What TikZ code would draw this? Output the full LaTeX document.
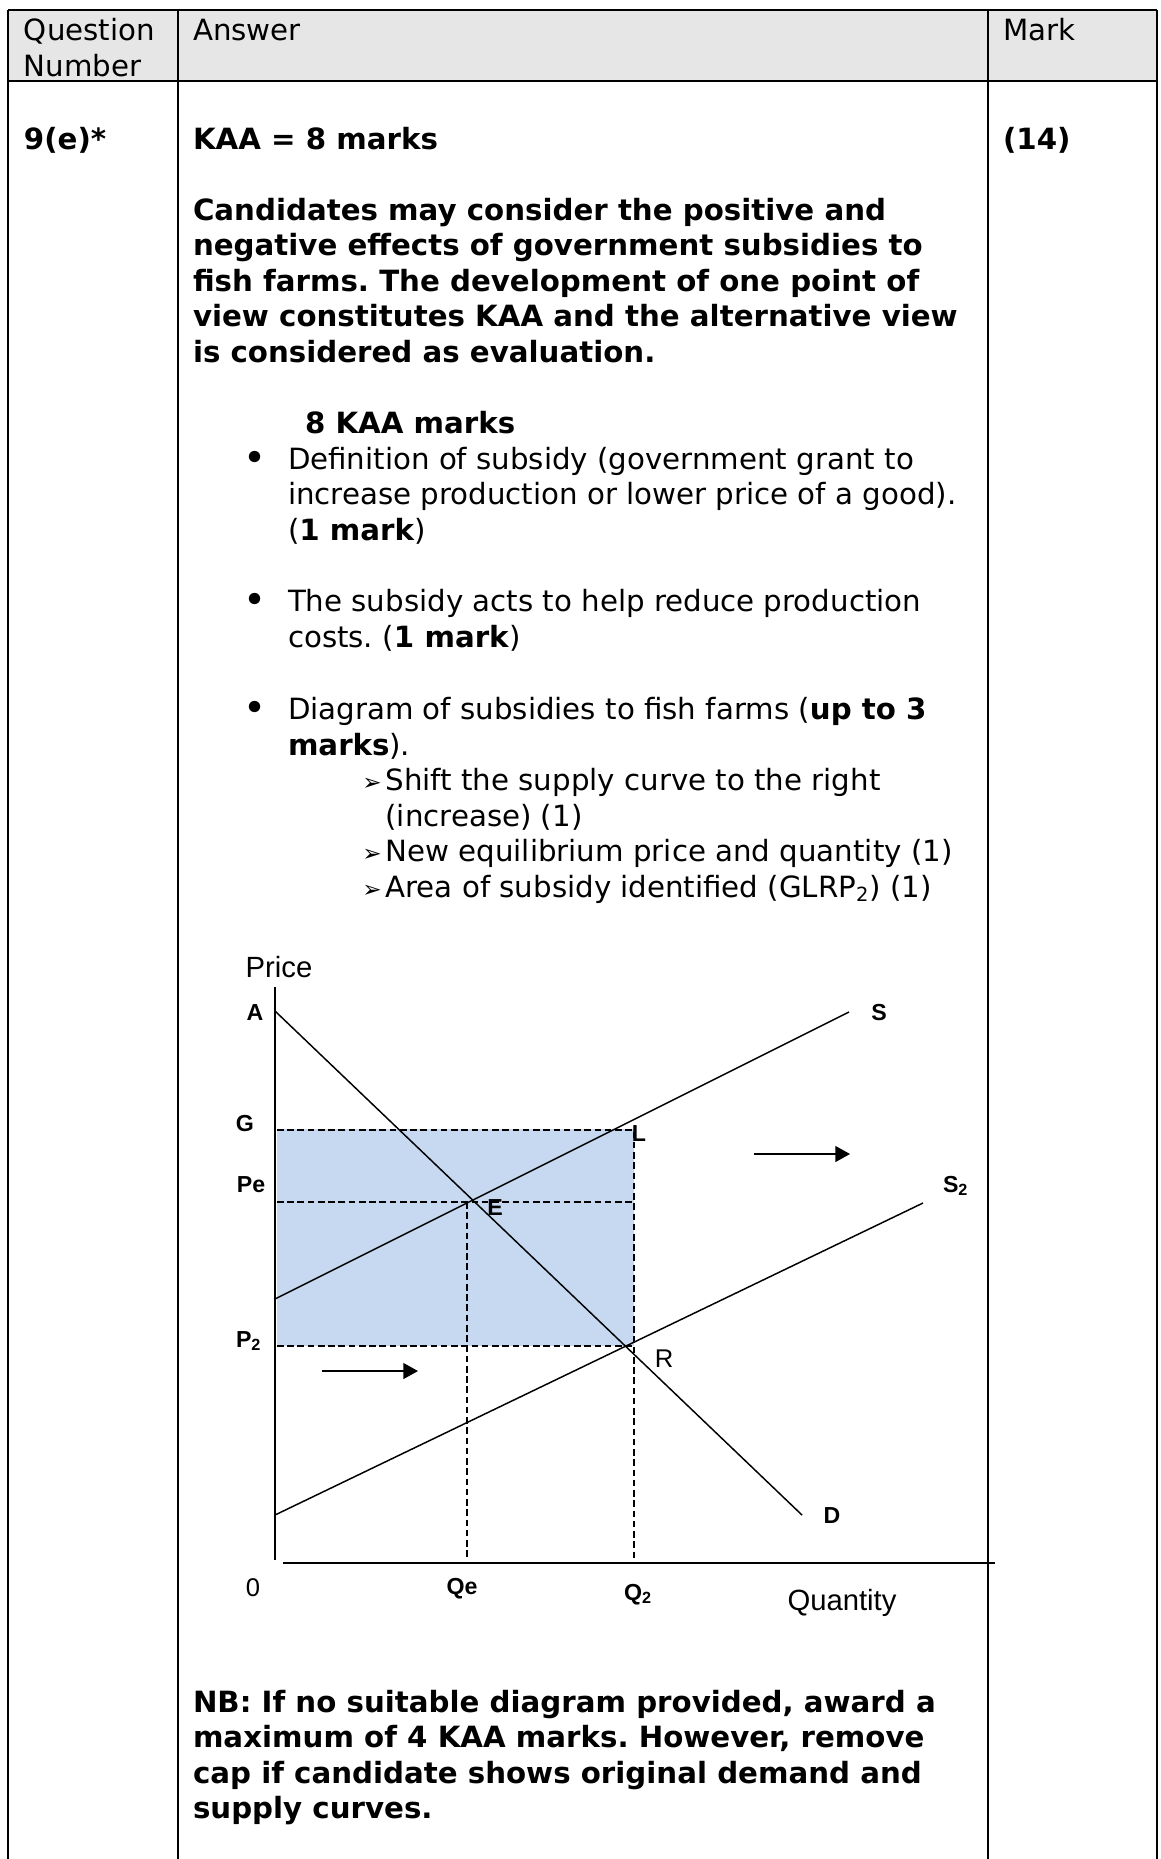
\documentclass[tikz,border=0pt]{standalone}
\usepackage{fontspec}
\setmainfont{DejaVu Sans}
\newfontfamily\arialfont{Liberation Sans}
\usepackage{xcolor}
\definecolor{headgray}{RGB}{230,230,230}
\definecolor{subsidyblue}{RGB}{198,217,241}
\usetikzlibrary{arrows.meta,positioning}
\frenchspacing

\begin{document}
\begin{tikzpicture}[
  x=0.41pt,
  y=-0.41pt,
  every node/.style={inner sep=0pt, outer sep=0pt},
  rule/.style={line width=1.2pt},
  body/.style={anchor=base west, font=\fontsize{12}{14.56}\selectfont},
  bodybold/.style={anchor=base west, font=\fontsize{12}{14.56}\selectfont\bfseries},
  bulletmark/.style={anchor=base, font=\fontsize{16}{16}\selectfont},
  arrowmark/.style={anchor=base, font=\fontsize{9.5}{9.5}\selectfont},
  curve/.style={line width=0.6pt},
  axisline/.style={line width=0.8pt},
  guide/.style={line width=0.6pt, dash pattern=on 2.7pt off 1.5pt},
  shiftarrow/.style={line width=0.6pt, -{Triangle[length=6pt,width=6.5pt]}},
  axislabel/.style={font=\arialfont\fontsize{12}{14}\selectfont},
  pointlabel/.style={font=\arialfont\fontsize{9.5}{11}\selectfont\bfseries},
  smalllabel/.style={font=\arialfont\fontsize{10.5}{12}\selectfont}
]
\useasboundingbox (0,0) rectangle (1160,1859);

\fill[headgray] (8,10) rectangle (1157,81);
\draw[rule] (8,10) -- (1157,10);
\draw[rule] (8,81) -- (1157,81);
\foreach \xcol in {8,178,988,1157}
  \draw[rule] (\xcol,10) -- (\xcol,1859);

\node[body] (qhead1) at (24,40.5) {Question};
\node[body] (qhead2) at (24,76) {Number};
\node[body] (answerhead) at (193,40.5) {Answer};
\node[body] (markhead) at (1003,40.5) {Mark};

\node[bodybold] (qid) at (24,149) {9(e)*};
\node[bodybold] (kaa) at (193,149) {KAA = 8 marks};
\node[bodybold] (total) at (1003,149) {(14)};

\foreach \txt [count=\i from 0] in {
  {Candidates may consider the positive and},
  {negative effects of government subsidies to},
  {fish farms. The development of one point of},
  {view constitutes KAA and the alternative view},
  {is considered as evaluation.}}
  \node[bodybold] (intro\i) at (193,220+35.55*\i) {\txt};

\node[bodybold] (kaahead) at (305,433) {8 KAA marks};

\foreach \yb [count=\i] in {469,611,719}
  \node[bulletmark] (bullet\i) at (255,\yb+2) {•};

\node[body] (def1) at (288,469) {Definition of subsidy (government grant to};
\node[body] (def2) at (288,504.6) {increase production or lower price of a good).};
\node[body] (def3) at (288,540) {(\textbf{1 mark})};
\node[body] (cost1) at (288,611) {The subsidy acts to help reduce production};
\node[body] (cost2) at (288,647) {costs. (\textbf{1 mark})};
\node[body] (diag1) at (288,719) {Diagram of subsidies to fish farms (\textbf{up to 3}};
\node[body] (diag2) at (288,755) {\textbf{marks}).};

\foreach \yb [count=\i] in {790,861.5,897}
  \node[arrowmark] (sub\i) at (372,\yb) {➢};
\node[body] (shift1) at (385.5,790) {Shift the supply curve to the right};
\node[body] (shift2) at (385.5,826) {(increase) (1)};
\node[body] (neweq) at (385.5,861.5) {New equilibrium price and quantity (1)};
\node[body] (area) at (385.5,897) {Area of subsidy identified (GLRP\textsubscript{2}) (1)};

\foreach \txt [count=\i from 0] in {
  {NB: If no suitable diagram provided, award a},
  {maximum of 4 KAA marks. However, remove},
  {cap if candidate shows original demand and},
  {supply curves.}}
  \node[bodybold] (nb\i) at (193,1712+35.55*\i) {\txt};

\coordinate (ytop) at (275,987);
\coordinate (ybot) at (275,1560);
\coordinate (xleft) at (283,1563);
\coordinate (xright) at (995,1563);
\coordinate (Dtop) at (275,1011);
\coordinate (Dend) at (802,1515);
\coordinate (Sstart) at (275,1299);
\coordinate (Send) at (849,1012);
\coordinate (S2start) at (275,1515);
\coordinate (S2end) at (923,1203);
\coordinate (Gy) at (277,1130);
\coordinate (Lc) at (634,1130);
\coordinate (Pey) at (277,1202);
\coordinate (PeQ2) at (634,1202);
\coordinate (P2y) at (277,1346);
\coordinate (Rc) at (634,1346);
\coordinate (Qetop) at (467,1202);
\coordinate (Qebot) at (467,1560);
\coordinate (Q2bot) at (634,1560);
\coordinate (arrowA1) at (754,1154);
\coordinate (arrowA2) at (850,1154);
\coordinate (arrowB1) at (322,1371);
\coordinate (arrowB2) at (418,1371);

\fill[subsidyblue] (277,1129) rectangle (634,1346);

\draw[guide] (Gy) -- (Lc) -- (Q2bot);
\draw[guide] (Pey) -- (PeQ2);
\draw[guide] (P2y) -- (Rc);
\draw[guide] (Qetop) -- (Qebot);

\draw[curve] (Dtop) -- (Dend);
\draw[curve] (Sstart) -- (Send);
\draw[curve] (S2start) -- (S2end);
\draw[shiftarrow] (arrowA1) -- (arrowA2);
\draw[shiftarrow] (arrowB1) -- (arrowB2);

\draw[axisline] (ytop) -- (ybot);
\draw[axisline] (xleft) -- (xright);

\node[axislabel] (price) at (279,967) {Price};
\node[axislabel] (quantity) at (842,1603) {Quantity};
\node[smalllabel] (zero) at (253,1588) {0};
\node[smalllabel] (Rlab) at (664,1359) {R};
\node[pointlabel] (Alab) at (255,1013) {A};
\node[pointlabel] (Glab) at (245,1124) {G};
\node[pointlabel] (Pelab) at (251,1185) {Pe};
\node[pointlabel] (Elab) at (495,1208) {E};
\node[pointlabel] (Llab) at (639,1134) {L};
\node[pointlabel] (Slab) at (879,1013) {S};
\node[pointlabel] (Dlab) at (832,1516) {D};
\node[pointlabel] (Qelab) at (462,1589) {Qe};
\node[pointlabel, anchor=base west] (P2lab) at (236,1347) {P\textsubscript{2}};
\node[pointlabel, anchor=base west] (S2lab) at (943,1192) {S\textsubscript{2}};
\node[pointlabel, anchor=base west] (Q2lab) at (624,1600) {Q\textsubscript{2}};
\end{tikzpicture}
\end{document}
